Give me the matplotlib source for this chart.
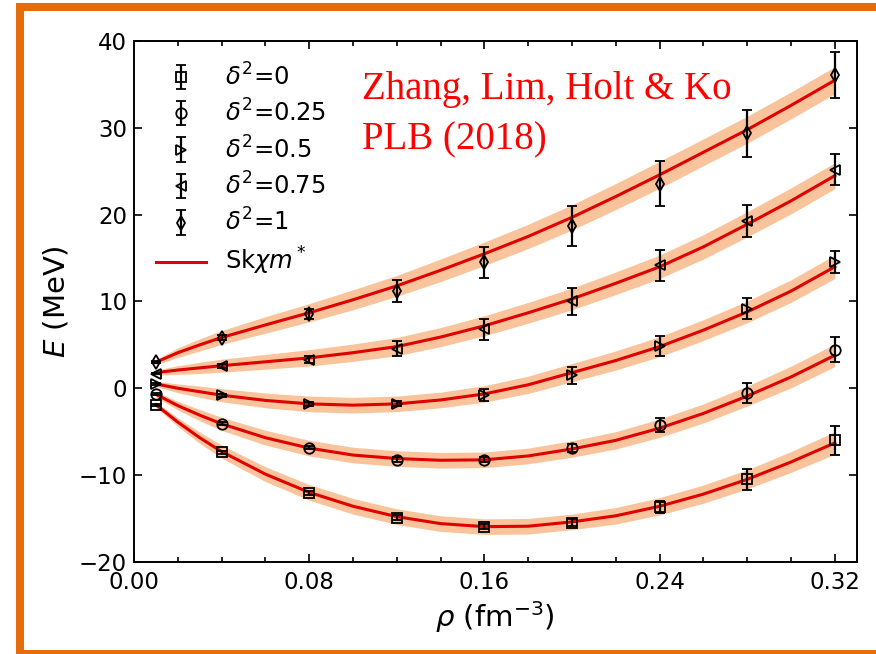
import matplotlib
matplotlib.use("Agg")
import matplotlib.pyplot as plt
from matplotlib.patches import Rectangle
from matplotlib.lines import Line2D
from matplotlib.ticker import MultipleLocator

# Energy per nucleon of asymmetric nuclear matter vs density
rho = [0.01, 0.04, 0.08, 0.12, 0.16, 0.20, 0.24, 0.28, 0.32]

delta2_labels = [r"$\delta^2$=0", r"$\delta^2$=0.25", r"$\delta^2$=0.5",
                 r"$\delta^2$=0.75", r"$\delta^2$=1"]
markers = ["s", "o", ">", "<", "d"]

E_d0 = [-1.95, -7.4, -12.05, -14.9, -15.95, -15.5, -13.7, -10.5, -6.0]
E_d025 = [-0.7, -4.07, -6.84, -8.22, -8.22, -6.88, -4.27, -0.5, 4.46]
E_d05 = [0.46, -0.8, -1.84, -1.77, -0.73, 1.5, 4.88, 9.18, 14.56]
E_d075 = [1.69, 2.57, 3.3, 4.57, 6.8, 10.03, 14.17, 19.24, 25.2]
E_d1 = [3.03, 5.84, 8.55, 11.2, 14.5, 18.66, 23.58, 29.4, 36.06]

err_d0 = [0.1, 0.15, 0.2, 0.25, 0.3, 0.4, 0.7, 1.2, 1.7]
err_d025 = [0.1, 0.15, 0.2, 0.25, 0.3, 0.45, 0.8, 1.15, 1.45]
err_d05 = [0.1, 0.15, 0.25, 0.3, 0.7, 1.0, 1.15, 1.25, 1.3]
err_d075 = [0.1, 0.2, 0.4, 0.85, 1.2, 1.55, 1.77, 1.85, 1.8]
err_d1 = [0.1, 0.3, 0.55, 1.3, 1.8, 2.3, 2.6, 2.7, 2.65]

# Skyrme (Sk chi m*) curves and their uncertainty bands
rho_curve = [0.01, 0.02, 0.03, 0.04, 0.06, 0.08, 0.10, 0.12, 0.14, 0.16,
             0.18, 0.20, 0.22, 0.24, 0.26, 0.28, 0.30, 0.32]
sk_d0 = [-1.9, -3.9, -5.7, -7.3, -9.9, -12.0, -13.6, -14.8, -15.6, -15.95,
         -15.9, -15.4, -14.7, -13.6, -12.2, -10.5, -8.5, -6.3]
sk_d025 = [-0.7, -2.0, -3.1, -4.1, -5.7, -6.9, -7.7, -8.1, -8.3, -8.25,
           -7.8, -7.0, -6.0, -4.6, -2.9, -0.9, 1.3, 3.8]
sk_d05 = [0.5, 0.0, -0.4, -0.8, -1.4, -1.8, -1.95, -1.8, -1.35, -0.65,
          0.4, 1.8, 3.2, 4.8, 6.7, 8.8, 11.2, 14.0]
sk_d075 = [1.8, 2.1, 2.35, 2.6, 3.05, 3.5, 4.1, 4.8, 5.9, 7.2,
           8.7, 10.3, 12.1, 14.0, 16.3, 18.9, 21.6, 24.5]
sk_d1 = [3.0, 4.1, 5.0, 5.85, 7.3, 8.7, 10.2, 11.8, 13.6, 15.5,
         17.5, 19.7, 22.1, 24.6, 27.2, 29.8, 32.6, 35.5]

band_d0 = [0.3, 0.5, 0.65, 0.75, 0.85, 0.9, 0.9, 0.9, 0.9, 0.9,
           0.9, 0.9, 0.95, 1.0, 1.05, 1.1, 1.2, 1.3]
band_d025 = [0.3, 0.5, 0.65, 0.75, 0.85, 0.9, 0.9, 0.9, 0.9, 0.9,
             0.9, 0.95, 1.0, 1.05, 1.1, 1.15, 1.25, 1.3]
band_d05 = [0.3, 0.5, 0.65, 0.75, 0.85, 0.9, 0.9, 0.9, 0.9, 0.95,
            1.0, 1.05, 1.1, 1.15, 1.2, 1.25, 1.3, 1.35]
band_d075 = [0.3, 0.5, 0.65, 0.75, 0.85, 0.95, 1.0, 1.05, 1.1, 1.15,
             1.2, 1.25, 1.3, 1.35, 1.4, 1.45, 1.5, 1.5]
band_d1 = [0.3, 0.55, 0.7, 0.8, 0.95, 1.05, 1.15, 1.2, 1.3, 1.35,
           1.4, 1.45, 1.5, 1.55, 1.55, 1.55, 1.55, 1.55]

x_ticks = [0.00, 0.08, 0.16, 0.24, 0.32]
x_ticklabels = ["0.00", "0.08", "0.16", "0.24", "0.32"]
y_ticks = [-20, -10, 0, 10, 20, 30, 40]

points = [E_d0, E_d025, E_d05, E_d075, E_d1]
errors = [err_d0, err_d025, err_d05, err_d075, err_d1]
curves = [sk_d0, sk_d025, sk_d05, sk_d075, sk_d1]
bands = [band_d0, band_d025, band_d05, band_d075, band_d1]

fig = plt.figure(figsize=(8.76, 6.54), dpi=100)
ax = fig.add_axes([0.153, 0.141, 0.825, 0.796])

band_color = "#F9C49C"
line_color = "#E00000"

for cv, bw in zip(curves, bands):
    lo = [c - b for c, b in zip(cv, bw)]
    hi = [c + b for c, b in zip(cv, bw)]
    ax.fill_between(rho_curve, lo, hi, color=band_color, lw=0, zorder=1)
for cv in curves:
    ax.plot(rho_curve, cv, color=line_color, lw=2.2, zorder=2)

handles = []
for E, err, m, lab in zip(points, errors, markers, delta2_labels):
    h = ax.errorbar(rho, E, yerr=err, fmt=m, ms=7.5, mfc="none", mec="black",
                    mew=1.3, ecolor="black", elinewidth=1.6, capsize=3.5,
                    capthick=1.6, label=lab, zorder=3)
    handles.append(h)
handles.append(Line2D([], [], color=line_color, lw=2.2, label=r"Sk$\chi m^*$"))

ax.legend(handles=handles, loc="upper left", frameon=False, fontsize=17.5,
          handlelength=2.05, labelspacing=0.38, borderaxespad=0.5,
          handletextpad=0.8)

ax.set_xlim(0.0, 0.33)
ax.set_ylim(-20, 40)
ax.set_xticks(x_ticks)
ax.set_xticklabels(x_ticklabels)
ax.set_yticks(y_ticks)
ax.xaxis.set_minor_locator(MultipleLocator(0.02))
ax.tick_params(which="both", direction="in", top=True, right=True,
               labelsize=16.5, width=1.2)
ax.tick_params(which="major", length=6)
ax.tick_params(which="minor", length=3.5)
ax.tick_params(axis="x", pad=6.5)
ax.tick_params(axis="y", pad=5)
for s in ax.spines.values():
    s.set_linewidth(1.4)

ax.set_xlabel(r"$\rho$ (fm$^{-3}$)", fontsize=21, labelpad=4)
ax.set_ylabel(r"$E$ (MeV)", fontsize=21, labelpad=6)

ax.text(0.315, 0.943, "Zhang, Lim, Holt & Ko\nPLB (2018)",
        transform=ax.transAxes, ha="left", va="top", color="#FF0000",
        fontsize=28, family="Liberation Serif", linespacing=1.5)

# orange frame around the figure
fig.add_artist(Rectangle((20 / 876, 0.0), 860 / 876, 1 - 6.5 / 654,
                         transform=fig.transFigure, fill=False,
                         edgecolor="#E46C0A", lw=5.8, zorder=10))

fig.savefig("out.png", dpi=100)
